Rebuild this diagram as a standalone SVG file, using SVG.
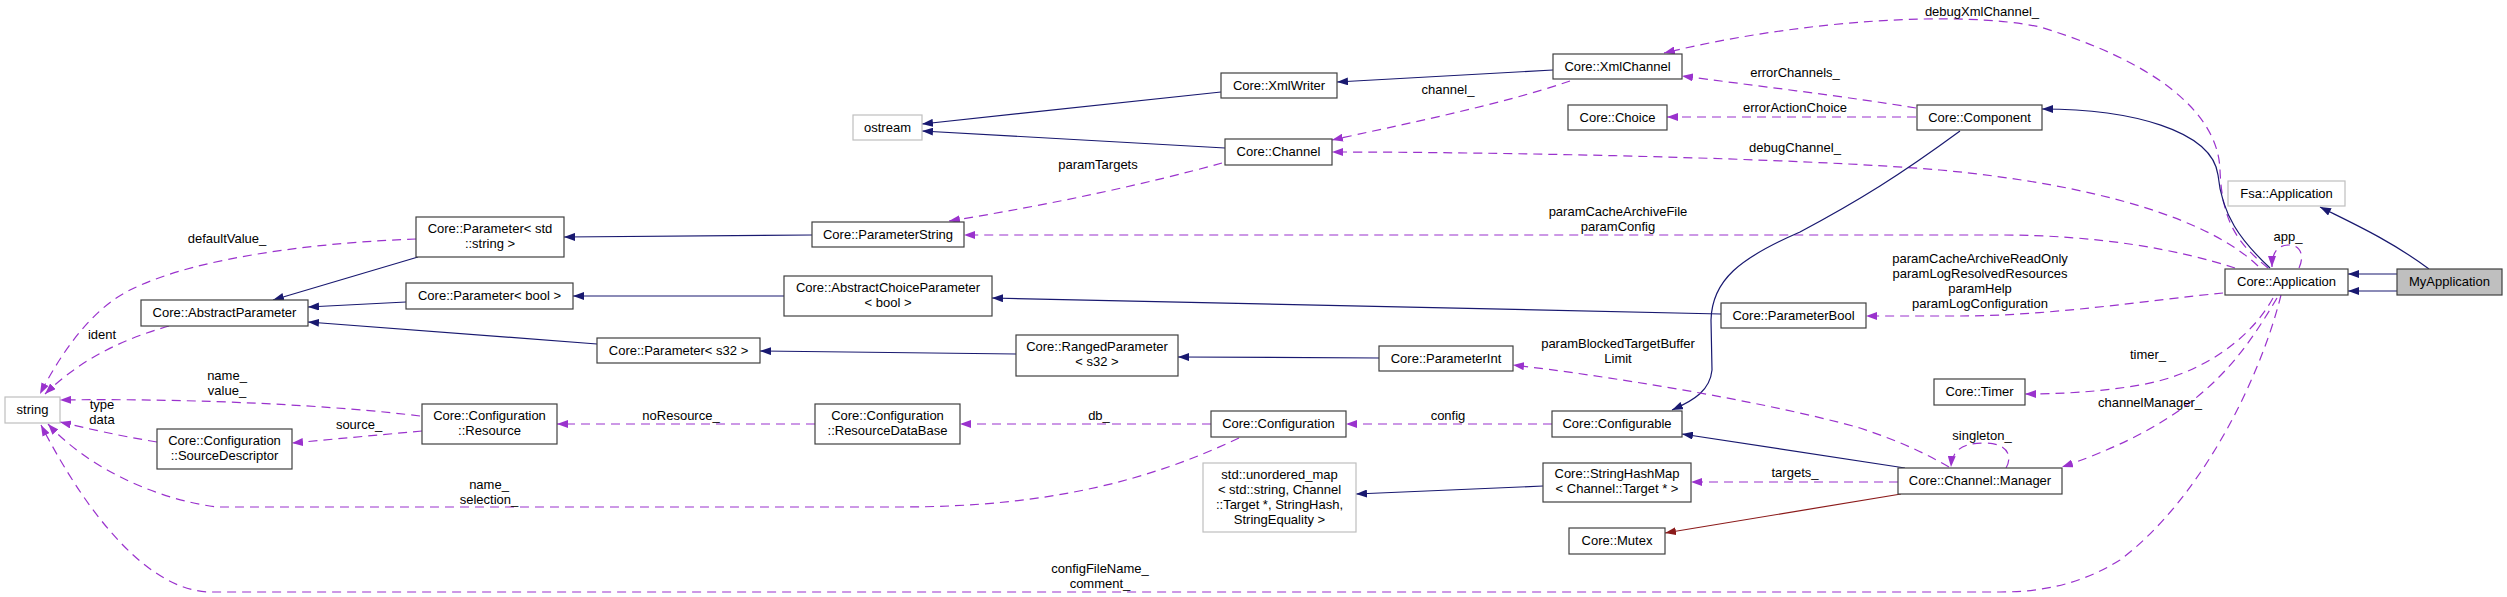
<svg xmlns="http://www.w3.org/2000/svg" width="2507" height="597" viewBox="0 0 2507 597">
<style>
text{font-family:"Liberation Sans",Arial,sans-serif;font-size:13px;fill:#000}
.n rect{fill:#fff;stroke:#404040;stroke-width:1.2}
.g rect{fill:#fff;stroke:#bfbfbf;stroke-width:1.2}
.c text{text-anchor:middle}
.inh{fill:none;stroke:#191970;stroke-width:1.2}
.use{fill:none;stroke:#9a32cd;stroke-width:1.2;stroke-dasharray:9,6}
.prv{fill:none;stroke:#8b1a1a;stroke-width:1.2}
.lbl{text-anchor:middle}
</style>
<defs>
<marker id="ai" viewBox="0 0 11 8" refX="11" refY="4" markerWidth="11" markerHeight="8" orient="auto" markerUnits="userSpaceOnUse"><path d="M0,0 L11,4 L0,8 z" fill="#191970"/></marker>
<marker id="au" viewBox="0 0 11 8" refX="11" refY="4" markerWidth="11" markerHeight="8" orient="auto" markerUnits="userSpaceOnUse"><path d="M0,0 L11,4 L0,8 z" fill="#9a32cd"/></marker>
<marker id="ap" viewBox="0 0 11 8" refX="11" refY="4" markerWidth="11" markerHeight="8" orient="auto" markerUnits="userSpaceOnUse"><path d="M0,0 L11,4 L0,8 z" fill="#8b1a1a"/></marker>
</defs>
<rect width="2507" height="597" fill="#fff"/>
<g id="edges">
<path class="inh" marker-end="url(#ai)" d="M1221,92 L922,124"/>
<path class="inh" marker-end="url(#ai)" d="M1225,148 L922,131"/>
<path class="inh" marker-end="url(#ai)" d="M1553,70 L1337,82"/>
<path class="use" marker-end="url(#au)" d="M1570,81 C1500,105 1400,125 1332,140"/>
<path class="use" marker-end="url(#au)" d="M1222,163 C1150,183 1050,205 949,221"/>
<path class="use" marker-end="url(#au)" d="M1916,108 C1850,97 1750,85 1682,76"/>
<path class="use" marker-end="url(#au)" d="M1916,117 L1667,117"/>
<path class="use" marker-end="url(#au)" d="M2258,266 C2210,220 2100,185 1940,170 C1800,158 1500,152 1332,152"/>
<path class="use" marker-end="url(#au)" d="M2268,268 C2240,245 2222,225 2220,170 C2218,110 2150,60 2040,27 C1960,10 1800,20 1664,53"/>
<path class="use" marker-end="url(#au)" d="M2235,268 C2180,250 2100,235 2000,235 L964,235"/>
<path class="inh" marker-end="url(#ai)" d="M1960,131 C1900,175 1860,200 1800,232 C1740,258 1712,280 1711,320 L1712,370 C1710,390 1695,400 1672,410"/>
<path class="inh" marker-end="url(#ai)" d="M2270,268 C2240,240 2222,215 2218,175 C2212,130 2130,109 2042,109"/>
<path class="inh" marker-end="url(#ai)" d="M2429,269 C2390,240 2350,222 2320,207"/>
<path class="inh" marker-end="url(#ai)" d="M2397,274 L2348,274"/>
<path class="inh" marker-end="url(#ai)" d="M2397,291 L2348,291"/>
<path class="use" marker-end="url(#au)" d="M2299,268 C2305,255 2300,245 2289,245 C2278,245 2272,252 2272,267"/>
<path class="inh" marker-end="url(#ai)" d="M418,257 L273,300"/>
<path class="inh" marker-end="url(#ai)" d="M812,235 L564,237"/>
<path class="inh" marker-end="url(#ai)" d="M406,302 L308,307"/>
<path class="inh" marker-end="url(#ai)" d="M784,296 L573,296"/>
<path class="inh" marker-end="url(#ai)" d="M1721,314 L992,298"/>
<path class="inh" marker-end="url(#ai)" d="M597,344 L308,322"/>
<path class="inh" marker-end="url(#ai)" d="M1016,354 L760,351"/>
<path class="inh" marker-end="url(#ai)" d="M1379,358 L1178,357"/>
<path class="use" marker-end="url(#au)" d="M1949,467 C1920,450 1890,438 1860,428 C1760,400 1600,375 1513,365"/>
<path class="use" marker-end="url(#au)" d="M1552,424 L1346,424"/>
<path class="use" marker-end="url(#au)" d="M1211,424 L960,424"/>
<path class="use" marker-end="url(#au)" d="M815,424 L557,424"/>
<path class="use" marker-end="url(#au)" d="M420,416 C340,406 200,398 60,400"/>
<path class="use" marker-end="url(#au)" d="M422,431 L292,443"/>
<path class="use" marker-end="url(#au)" d="M157,442 C120,436 85,428 60,422"/>
<path class="use" marker-end="url(#au)" d="M169,326 C120,340 80,360 45,394"/>
<path class="use" marker-end="url(#au)" d="M416,239 C330,242 200,255 130,290 C90,310 60,355 40,394"/>
<path class="use" marker-end="url(#au)" d="M1239,438 C1150,480 1050,507 900,507 L217,507 C160,500 90,470 48,424"/>
<path class="use" marker-end="url(#au)" d="M2281,295 C2260,380 2200,500 2120,560 C2080,585 2040,592 2000,592 L209,592 C150,590 90,520 41,425"/>
<path class="inh" marker-end="url(#ai)" d="M1543,486 L1356,494"/>
<path class="inh" marker-end="url(#ai)" d="M1905,468 L1682,434"/>
<path class="use" marker-end="url(#au)" d="M1898,482 L1691,482"/>
<path class="prv" marker-end="url(#ap)" d="M1901,494 L1665,533"/>
<path class="use" marker-end="url(#au)" d="M2223,293 C2150,300 2050,316 1960,316 L1866,316"/>
<path class="use" marker-end="url(#au)" d="M2273,298 C2250,340 2200,375 2140,385 C2100,392 2060,394 2025,394"/>
<path class="use" marker-end="url(#au)" d="M2277,298 C2240,360 2200,420 2062,467"/>
<path class="use" marker-end="url(#au)" d="M2006,468 C2012,458 2010,443 1984,443 C1960,443 1952,452 1951,467"/>
<g class="lbl">
<text x="1982" y="16">debugXmlChannel_</text>
<text x="1448" y="94">channel_</text>
<text x="1795" y="77">errorChannels_</text>
<text x="1795" y="112">errorActionChoice</text>
<text x="1795" y="152">debugChannel_</text>
<text x="1098" y="169">paramTargets</text>
<text x="1618" y="216">paramCacheArchiveFile</text>
<text x="1618" y="231">paramConfig</text>
<text x="227" y="243">defaultValue_</text>
<text x="2288" y="241">app_</text>
<text x="1980" y="263">paramCacheArchiveReadOnly</text>
<text x="1980" y="278">paramLogResolvedResources</text>
<text x="1980" y="293">paramHelp</text>
<text x="1980" y="308">paramLogConfiguration</text>
<text x="102" y="339">ident</text>
<text x="1618" y="348">paramBlockedTargetBuffer</text>
<text x="1618" y="363">Limit</text>
<text x="2148" y="359">timer_</text>
<text x="227" y="380">name_</text>
<text x="227" y="395">value_</text>
<text x="2150" y="407">channelManager_</text>
<text x="102" y="409">type</text>
<text x="102" y="424">data</text>
<text x="681" y="420">noResource_</text>
<text x="1099" y="420">db_</text>
<text x="1448" y="420">config</text>
<text x="359" y="429">source_</text>
<text x="1982" y="440">singleton_</text>
<text x="1795" y="477">targets_</text>
<text x="489" y="489">name_</text>
<text x="489" y="504">selection_</text>
<text x="1100" y="573">configFileName_</text>
<text x="1100" y="588">comment_</text>
</g>
</g>
<g id="n_string" class="g c"><rect x="5" y="397" width="55" height="26"/><text x="32.5" y="414">string</text></g>
<g id="n_abstractparameter" class="n c"><rect x="141" y="300" width="167" height="26"/><text x="224.5" y="317">Core::AbstractParameter</text></g>
<g id="n_param_string" class="n c"><rect x="416" y="217" width="148" height="40"/><text x="490" y="233">Core::Parameter&lt; std</text><text x="490" y="248">::string &gt;</text></g>
<g id="n_param_bool" class="n c"><rect x="406" y="283" width="167" height="26"/><text x="489.5" y="300">Core::Parameter&lt; bool &gt;</text></g>
<g id="n_param_s32" class="n c"><rect x="597" y="338" width="163" height="25"/><text x="678.5" y="355">Core::Parameter&lt; s32 &gt;</text></g>
<g id="n_sourcedescriptor" class="n c"><rect x="157" y="429" width="135" height="40"/><text x="224.5" y="445">Core::Configuration</text><text x="224.5" y="460">::SourceDescriptor</text></g>
<g id="n_resource" class="n c"><rect x="422" y="404" width="135" height="40"/><text x="489.5" y="420">Core::Configuration</text><text x="489.5" y="435">::Resource</text></g>
<g id="n_resourcedatabase" class="n c"><rect x="815" y="404" width="145" height="40"/><text x="887.5" y="420">Core::Configuration</text><text x="887.5" y="435">::ResourceDataBase</text></g>
<g id="n_ostream" class="g c"><rect x="853" y="115" width="69" height="25"/><text x="887.5" y="132">ostream</text></g>
<g id="n_parameterstring" class="n c"><rect x="812" y="222" width="152" height="25"/><text x="888" y="239">Core::ParameterString</text></g>
<g id="n_abstractchoiceparameter" class="n c"><rect x="784" y="276" width="208" height="40"/><text x="888" y="292">Core::AbstractChoiceParameter</text><text x="888" y="307">&lt; bool &gt;</text></g>
<g id="n_rangedparameter" class="n c"><rect x="1016" y="335" width="162" height="41"/><text x="1097" y="351">Core::RangedParameter</text><text x="1097" y="366">&lt; s32 &gt;</text></g>
<g id="n_xmlwriter" class="n c"><rect x="1221" y="73" width="116" height="25"/><text x="1279" y="90">Core::XmlWriter</text></g>
<g id="n_channel" class="n c"><rect x="1225" y="139" width="107" height="26"/><text x="1278.5" y="156">Core::Channel</text></g>
<g id="n_configuration" class="n c"><rect x="1211" y="411" width="135" height="26"/><text x="1278.5" y="428">Core::Configuration</text></g>
<g id="n_unordered_map" class="g c"><rect x="1203" y="463" width="153" height="69"/><text x="1279.5" y="478.5">std::unordered_map</text><text x="1279.5" y="493.5">&lt; std::string, Channel</text><text x="1279.5" y="508.5">::Target *, StringHash,</text><text x="1279.5" y="523.5">StringEquality &gt;</text></g>
<g id="n_xmlchannel" class="n c"><rect x="1553" y="54" width="129" height="25"/><text x="1617.5" y="71">Core::XmlChannel</text></g>
<g id="n_choice" class="n c"><rect x="1568" y="105" width="99" height="25"/><text x="1617.5" y="122">Core::Choice</text></g>
<g id="n_parameterint" class="n c"><rect x="1379" y="346" width="134" height="25"/><text x="1446" y="363">Core::ParameterInt</text></g>
<g id="n_configurable" class="n c"><rect x="1552" y="411" width="130" height="26"/><text x="1617" y="428">Core::Configurable</text></g>
<g id="n_stringhashmap" class="n c"><rect x="1543" y="463" width="148" height="39"/><text x="1617" y="478">Core::StringHashMap</text><text x="1617" y="493">&lt; Channel::Target * &gt;</text></g>
<g id="n_mutex" class="n c"><rect x="1569" y="528" width="96" height="26"/><text x="1617" y="545">Core::Mutex</text></g>
<g id="n_parameterbool" class="n c"><rect x="1721" y="303" width="145" height="25"/><text x="1793.5" y="320">Core::ParameterBool</text></g>
<g id="n_component" class="n c"><rect x="1917" y="105" width="125" height="25"/><text x="1979.5" y="122">Core::Component</text></g>
<g id="n_timer" class="n c"><rect x="1934" y="379" width="91" height="26"/><text x="1979.5" y="396">Core::Timer</text></g>
<g id="n_manager" class="n c"><rect x="1898" y="468" width="164" height="26"/><text x="1980" y="485">Core::Channel::Manager</text></g>
<g id="n_fsa_application" class="g c"><rect x="2228" y="181" width="117" height="25"/><text x="2286.5" y="198">Fsa::Application</text></g>
<g id="n_core_application" class="n c"><rect x="2225" y="269" width="123" height="26"/><text x="2286.5" y="286">Core::Application</text></g>
<g id="n_myapplication" class="n c"><rect x="2397" y="269" width="105" height="26" style="fill:#bfbfbf"/><text x="2449.5" y="286">MyApplication</text></g>
</svg>
